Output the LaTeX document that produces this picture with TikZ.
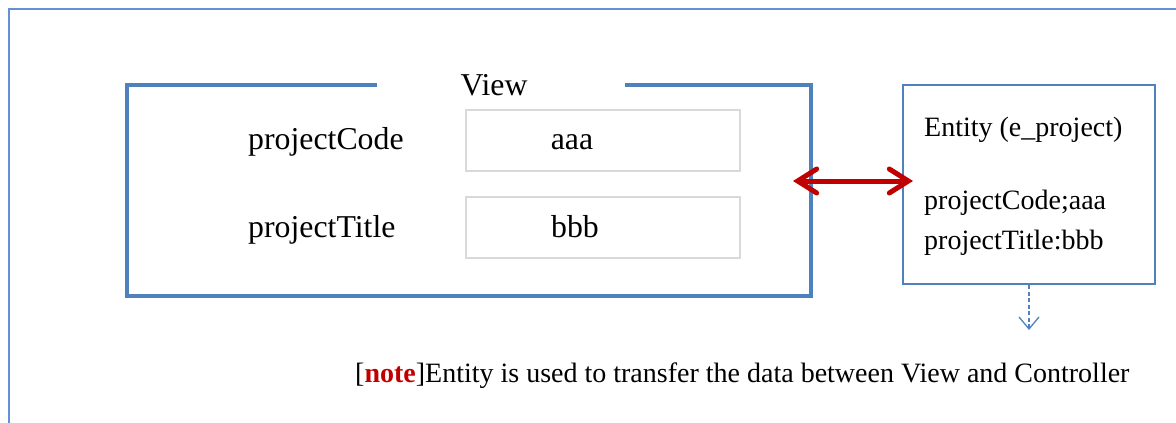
\documentclass[tikz,border=0pt]{standalone}
\usepackage{fontspec}
\setmainfont{Liberation Serif}
\usetikzlibrary{arrows.meta}
\definecolor{frameblue}{RGB}{98,146,214}
\definecolor{viewblue}{RGB}{79,129,189}
\definecolor{fieldgray}{RGB}{217,217,217}
\definecolor{linkred}{RGB}{192,0,0}
\tikzset{
  x=1pt, y=-1pt,
  bigtxt/.style={font=\fontsize{31.8}{36}\selectfont, inner sep=0pt},
  smalltxt/.style={font=\fontsize{28}{33}\selectfont, inner sep=0pt},
  fieldbox/.style={draw=fieldgray, line width=2pt, minimum width=274pt, minimum height=61pt, inner sep=0pt},
  entitybox/.style={draw=viewblue, line width=2.5pt, minimum width=252pt, minimum height=199pt, inner sep=0pt},
  viewarea/.style={minimum width=684pt, minimum height=211pt, inner sep=0pt},
  viewline/.style={draw=viewblue, line width=4pt},
  linkarrow/.style={draw=linkred, line width=5pt, {Straight Barb[length=19pt,width=24pt,line cap=round]}-{Straight Barb[length=19pt,width=24pt,line cap=round]}},
  flowarrow/.style={draw=viewblue, line width=1.3pt, dash pattern=on 4pt off 2.5pt, -{Straight Barb[length=12pt,width=20pt]}},
}
\begin{document}
\begin{tikzpicture}
\useasboundingbox (0,0) rectangle (1176,423);
% outer frame (open at right and bottom)
\coordinate (fbl) at (9,430);
\coordinate (ftl) at (9,9);
\coordinate (ftr) at (1180,9);
\draw[frameblue, line width=2pt] (fbl) -- (ftl) -- (ftr);

% view panel with a gap in the top edge for its title
\node[viewarea] (view) at (469,190.5) {};
\draw[viewline] ([xshift=250pt]view.north west) -- (view.north west) -- (view.south west)
  -- (view.south east) -- (view.north east) -- ([xshift=-186pt]view.north east);
\node[bigtxt, anchor=base] (viewtitle) at (494,95) {View};

% fields
\node[bigtxt, anchor=base west] (lcode) at (248,149) {projectCode};
\node[bigtxt, anchor=base west] (ltitle) at (248,237) {projectTitle};
\node[fieldbox] (fcode) at (603,140.5) {};
\node[fieldbox] (ftitle) at (603,227.5) {};
\node[bigtxt, anchor=base] (vcode) at (572,149) {aaa};
\node[bigtxt, anchor=base] (vtitle) at (575,237) {bbb};

% entity
\node[entitybox] (entity) at (1029,184.5) {};
\node[smalltxt, anchor=base west] (etitle) at (924,136) {Entity (e\_project)};
\node[smalltxt, anchor=base west] (ecode) at (924,209) {projectCode;aaa};
\node[smalltxt, anchor=base west] (etitlev) at (924,249) {projectTitle:bbb};

% links
\coordinate (la) at (793,181);
\coordinate (lb) at (913,181);
\draw[linkarrow] (la) -- (lb);
\coordinate (down) at (1029,330);
\draw[flowarrow] (entity.south) -- (down);

% note
\node[smalltxt, anchor=base west] (note) at (355,382) {[\textcolor{linkred}{\textbf{note}}]Entity is used to transfer the data between View and Controller};
\end{tikzpicture}
\end{document}
